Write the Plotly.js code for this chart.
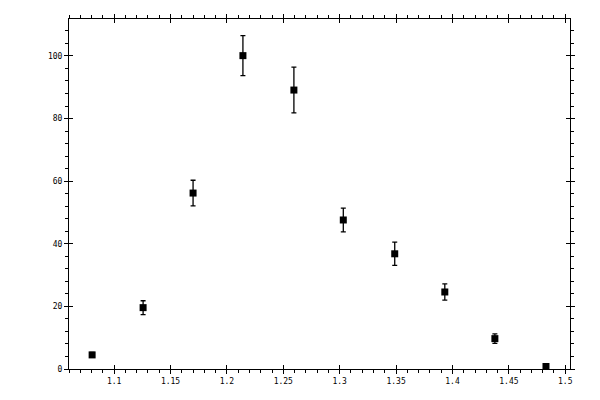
<!DOCTYPE html>
<html>
<head>
<meta charset="utf-8">
<script src="https://cdn.plot.ly/plotly-3.0.1.min.js"></script>
<style>
  html, body { margin: 0; padding: 0; background: #fff; }
  #chart { width: 600px; height: 400px; }
</style>
</head>
<body>
<div id="chart"></div>
<script>
// values
let x_values = [1.0805, 1.1257, 1.170, 1.2142, 1.2594, 1.3032, 1.3488, 1.3932, 1.4376, 1.4829];
let y_values = [4.5, 19.6, 56.2, 100.1, 89.1, 47.6, 36.8, 24.6, 9.7, 0.8];
let y_errors = [0.8, 2.2, 4.1, 6.4, 7.3, 3.8, 3.7, 2.6, 1.5, 0.4];

let x_range = [1.06, 1.5042];
let y_range = [0, 111.8];

let tick_font = { family: "DejaVu Sans Mono", size: 8, color: "#000" };

let points = {
  x: x_values,
  y: y_values,
  error_y: {
    type: "data",
    array: y_errors,
    visible: true,
    color: "#000",
    thickness: 1.3,
    width: 2.5,
  },
  mode: "markers",
  marker: { symbol: "square", size: 7, color: "#000" },
  type: "scatter",
  hoverinfo: "skip",
  showlegend: false,
};

// base axis: outside major + minor ticks, labels
function base_axis(range, dtick, minor_dtick) {
  return {
    range: range,
    autorange: false,
    showgrid: false,
    zeroline: false,
    showline: true,
    linecolor: "#000",
    linewidth: 1,
    mirror: "ticks",
    ticks: "outside",
    ticklen: 4,
    tickwidth: 1,
    tickcolor: "#000",
    tick0: 0,
    dtick: dtick,
    tickfont: tick_font,
    minor: { ticks: "outside", ticklen: 3, tickwidth: 1, tickcolor: "#000", dtick: minor_dtick, tick0: 0, showgrid: false },
  };
}

// overlay axis: inside half of the major ticks so they cross the frame
function inner_axis(range, dtick, overlay) {
  return {
    range: range,
    autorange: false,
    overlaying: overlay,
    showgrid: false,
    zeroline: false,
    showline: false,
    mirror: "ticks",
    ticks: "inside",
    ticklen: 4,
    tickwidth: 1,
    tickcolor: "#000",
    tick0: 0,
    dtick: dtick,
    showticklabels: false,
  };
}

let layout = {
  width: 600,
  height: 400,
  margin: { l: 69.3, r: 29.7, t: 19.3, b: 30.7 },
  paper_bgcolor: "#fff",
  plot_bgcolor: "#fff",
  xaxis: base_axis(x_range, 0.05, 0.01),
  yaxis: base_axis(y_range, 20, 4),
  xaxis2: inner_axis(x_range, 0.05, "x"),
  yaxis2: inner_axis(y_range, 20, "y"),
  showlegend: false,
};

// empty trace so the overlay axes get drawn
let overlay = { x: [], y: [], xaxis: "x2", yaxis: "y2", type: "scatter", hoverinfo: "skip", showlegend: false };

Plotly.newPlot("chart", [points, overlay], layout, {
  displaylogo: false,
  displayModeBar: false,
  staticPlot: true,
});
</script>
</body>
</html>
